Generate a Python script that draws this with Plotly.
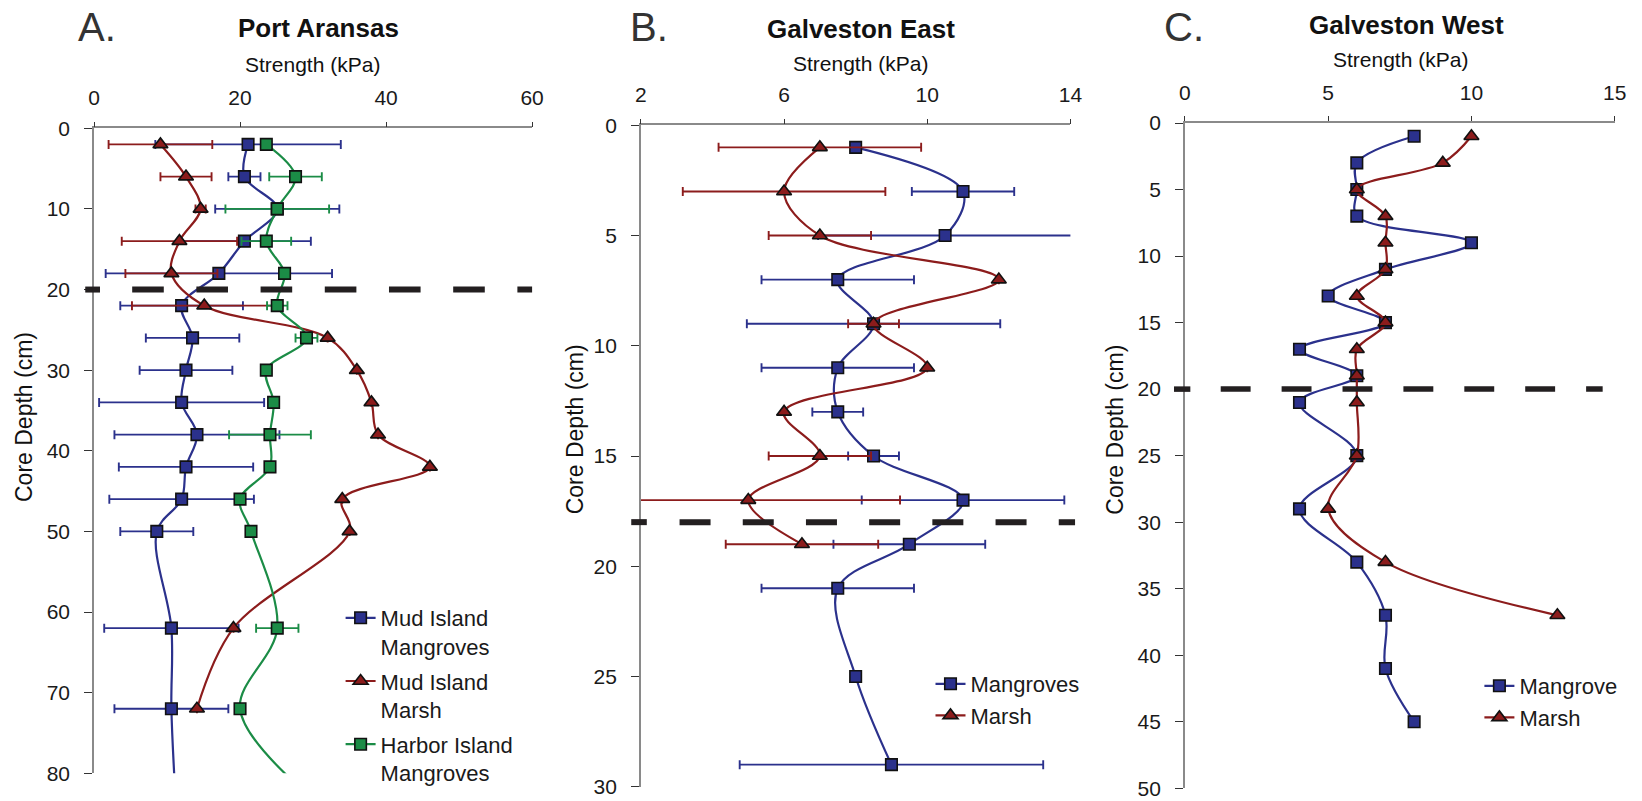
import plotly.graph_objects as go

# ---------------- Data ----------------
# Panel A - Port Aransas
A_MIM_DEPTH = [2, 6, 10, 14, 18, 22, 26, 30, 34, 38, 42, 46, 50, 62, 72, 82]
A_MIM_VAL = [21.1, 20.6, 25.1, 20.6, 17.1, 12.0, 13.5, 12.6, 12.0, 14.1, 12.6, 12.0, 8.6, 10.6, 10.6, 11.1]
A_MIM_ERR = [12.7, 2.2, 8.5, 9.1, 15.5, 8.4, 6.4, 6.35, 11.3, 11.3, 9.2, 9.9, 5.0, 9.2, 7.8, 1.5]

A_MMA_DEPTH = [2, 6, 10, 14, 18, 22, 26, 30, 34, 38, 42, 46, 50, 62, 72]
A_MMA_VAL = [9.1, 12.6, 14.6, 11.7, 10.6, 15.1, 32.0, 36.0, 38.0, 38.9, 46.0, 34.0, 35.0, 19.1, 14.1]
A_MMA_ERR = [7.1, 3.5, 0.7, 7.9, 6.3, 9.9, 0, 0, 0, 0, 0, 0, 0, 0, 0]

A_HIM_DEPTH = [2, 6, 10, 14, 18, 22, 26, 30, 34, 38, 42, 46, 50, 62, 72, 82]
A_HIM_VAL = [23.6, 27.6, 25.1, 23.6, 26.1, 25.1, 29.1, 23.6, 24.6, 24.1, 24.1, 20.0, 21.5, 25.1, 20.0, 28.5]
A_HIM_ERR = [0, 3.6, 7.1, 3.4, 0, 1.4, 1.5, 0, 0, 5.6, 0, 0, 0, 2.9, 0, 0]

# Panel B - Galveston East
B_MAN_DEPTH = [1, 3, 5, 7, 9, 11, 13, 15, 17, 19, 21, 25, 29]
B_MAN_VAL = [8.0, 11.0, 10.5, 7.5, 8.5, 7.5, 7.5, 8.5, 11.0, 9.5, 7.5, 8.0, 9.0]
B_MAN_ERR = [0, 1.43, 3.55, 2.13, 3.54, 2.13, 0.71, 0.71, 2.83, 2.12, 2.13, 0, 4.24]

B_MAR_DEPTH = [1, 3, 5, 7, 9, 11, 13, 15, 17, 19]
B_MAR_VAL = [7.0, 6.0, 7.0, 12.0, 8.5, 10.0, 6.0, 7.0, 5.0, 6.5]
B_MAR_ERR = [2.83, 2.83, 1.43, 0, 0.71, 0, 0, 1.43, 4.24, 2.13]

# Panel C - Galveston West
C_MAN_DEPTH = [1, 3, 5, 7, 9, 11, 13, 15, 17, 19, 21, 25, 29, 33, 37, 41, 45]
C_MAN_VAL = [8, 6, 6, 6, 10, 7, 5, 7, 4, 6, 4, 6, 4, 6, 7, 7, 8]

C_MAR_DEPTH = [1, 3, 5, 7, 9, 11, 13, 15, 17, 19, 21, 25, 29, 33, 37]
C_MAR_VAL = [10, 9, 6, 7, 7, 7, 6, 7, 6, 6, 6, 6, 5, 7, 13]

# transition depths (dashed lines)
DIVIDE_A = 20
DIVIDE_B = 18
DIVIDE_C = 20

# ---------------- Styling ----------------
FONT = "Liberation Sans, Arial, sans-serif"
BLUE = "#2b318c"
RED = "#8c1c1c"
GREEN = "#1b8c46"
OUTLINE = "#111111"
AXIS_COL = "#8a8a8a"
DASH_COL = "#231f20"

W, H = 1642, 801

panels = {
    "A": dict(xdom=[94.0 / W, 532.1 / W], ydom=[1 - 773.3 / H, 1 - 128.3 / H],
              xr=[0, 60], yr=[80, 0], xd=20, yd=10),
    "B": dict(xdom=[640.9 / W, 1070.4 / W], ydom=[1 - 786.7 / H, 1 - 125.3 / H],
              xr=[2, 14], yr=[30, 0], xd=4, yd=5),
    "C": dict(xdom=[1184.9 / W, 1614.7 / W], ydom=[1 - 788.3 / H, 1 - 123.0 / H],
              xr=[0, 15], yr=[50, 0], xd=5, yd=5),
}


def px(p, v):
    d = panels[p]
    return d["xdom"][0] + (d["xdom"][1] - d["xdom"][0]) * (v - d["xr"][0]) / (d["xr"][1] - d["xr"][0])


def py(p, depth):
    d = panels[p]
    return d["ydom"][1] - (d["ydom"][1] - d["ydom"][0]) * (depth - d["yr"][1]) / (d["yr"][0] - d["yr"][1])


fig = go.Figure()


def add_series(name, xs, ys, errs, color, symbol, axis, legend, size, group):
    kw = {}
    if errs is not None:
        kw["error_x"] = dict(type="data", array=errs, visible=True, color=color,
                             thickness=1.9, width=4.5)
    fig.add_trace(go.Scatter(
        x=xs, y=ys, name=name, mode="lines+markers", legendgroup=group,
        line=dict(color=color, width=2.2, shape="spline", smoothing=1.0),
        marker=dict(symbol=symbol, size=size, color=color,
                    line=dict(color=OUTLINE, width=1.6)),
        xaxis="x" + axis, yaxis="y" + axis, legend=legend, **kw))


SQ, TR = 11.5, 13
add_series("Mud Island<br>Mangroves", A_MIM_VAL, A_MIM_DEPTH, A_MIM_ERR, BLUE, "square", "", "legend", SQ, "a1")
add_series("Mud Island<br>Marsh", A_MMA_VAL, A_MMA_DEPTH, A_MMA_ERR, RED, "triangle-up", "", "legend", TR, "a2")
add_series("Harbor Island<br>Mangroves", A_HIM_VAL, A_HIM_DEPTH, A_HIM_ERR, GREEN, "square", "", "legend", SQ, "a3")
add_series("Mangroves", B_MAN_VAL, B_MAN_DEPTH, B_MAN_ERR, BLUE, "square", "2", "legend2", SQ, "b1")
add_series("Marsh", B_MAR_VAL, B_MAR_DEPTH, B_MAR_ERR, RED, "triangle-up", "2", "legend2", TR, "b1")
add_series("Mangrove", C_MAN_VAL, C_MAN_DEPTH, None, BLUE, "square", "3", "legend3", SQ, "c1")
add_series("Marsh", C_MAR_VAL, C_MAR_DEPTH, None, RED, "triangle-up", "3", "legend3", TR, "c1")

layout = dict(width=W, height=H, autosize=False,
              margin=dict(l=0, r=0, t=0, b=0, pad=0, autoexpand=False),
              paper_bgcolor="white", plot_bgcolor="white",
              font=dict(family=FONT, size=21, color="#1a1a1a"), showlegend=True)

for i, p in enumerate(["A", "B", "C"]):
    suf = "" if i == 0 else str(i + 1)
    d = panels[p]
    layout["xaxis" + suf] = dict(
        domain=d["xdom"], range=d["xr"], dtick=d["xd"], tick0=d["xr"][0], side="top",
        anchor="y" + suf, showgrid=False, zeroline=False, showline=True, automargin=False,
        linecolor=AXIS_COL, linewidth=1.5, ticks="outside", ticklen=5,
        tickcolor="#333333", tickwidth=1.3, tickfont=dict(size=21, color="#1a1a1a"),
        ticklabelstandoff=8)
    layout["yaxis" + suf] = dict(
        domain=d["ydom"], range=d["yr"], dtick=d["yd"], tick0=0,
        anchor="x" + suf, showgrid=False, zeroline=False, showline=True, automargin=False,
        linecolor=AXIS_COL, linewidth=1.5, ticks="outside", ticklen=8,
        tickcolor="#333333", tickwidth=1.3, tickfont=dict(size=21, color="#1a1a1a"),
        ticklabelstandoff=10)

legend_common = dict(font=dict(size=22, color="#1a1a1a", family=FONT), bgcolor="rgba(0,0,0,0)",
                     xanchor="left", yanchor="top", borderwidth=0)
layout["legend"] = dict(x=(380.6 - 40) / W, y=1 - 597 / H, valign="top", tracegroupgap=3,
                        **legend_common)
layout["legend2"] = dict(x=(970.5 - 40) / W, y=1 - 663 / H, **legend_common)
layout["legend3"] = dict(x=(1519.4 - 40) / W, y=1 - 665 / H, **legend_common)

fig.update_layout(**layout)

# dashed transition lines (paper coordinates computed from data values)
dash_specs = [
    ("A", DIVIDE_A, -1.2, 0.82, 5.23, 60.0, "31.6px,32.6px", 6),
    ("B", DIVIDE_B, 1.73, 2.165, 3.08, 14.13, "31px,32.2px", 6),
    ("C", DIVIDE_C, -0.38, 0.19, 1.25, 14.58, "29.9px,31px", 5.5),
]
for p, dep, s0, s1, d0, d1, pat, lw in dash_specs:
    yy = py(p, dep)
    fig.add_shape(type="line", xref="paper", yref="paper", x0=px(p, s0), x1=px(p, s1), y0=yy, y1=yy,
                  line=dict(color=DASH_COL, width=lw))
    fig.add_shape(type="line", xref="paper", yref="paper", x0=px(p, d0), x1=px(p, d1), y0=yy, y1=yy,
                  line=dict(color=DASH_COL, width=lw, dash=pat))


# text annotations
def ann(text, x, y, size, bold=False, color="#111111", angle=0):
    fig.add_annotation(text=("<b>%s</b>" % text) if bold else text, x=x / W, y=1 - y / H,
                       xref="paper", yref="paper", xanchor="center", yanchor="middle",
                       showarrow=False, textangle=angle,
                       font=dict(size=size, color=color, family=FONT))


ann("A.", 96.8, 27, 40, color="#333333")
ann("B.", 649.4, 27, 40, color="#333333")
ann("C.", 1183.7, 27, 40, color="#333333")
ann("Port Aransas", 318.3, 28, 26, bold=True)
ann("Galveston East", 860.6, 29, 26, bold=True)
ann("Galveston West", 1406.9, 25, 26, bold=True)
ann("Strength (kPa)", 312.0, 65, 21)
ann("Strength (kPa)", 860.5, 64, 21)
ann("Strength (kPa)", 1400.3, 60, 21)
ann("Core Depth (cm)", 23.3, 416.7, 23, angle=-90)
ann("Core Depth (cm)", 575.3, 429, 23, angle=-90)
ann("Core Depth (cm)", 1114.7, 430, 23, angle=-90)

fig.write_html(
    "out.html",
    config={"displayModeBar": False},
    post_script="document.documentElement.style.margin='0';document.body.style.margin='0';"
                "document.body.style.padding='0';document.body.style.overflow='hidden';",
)
